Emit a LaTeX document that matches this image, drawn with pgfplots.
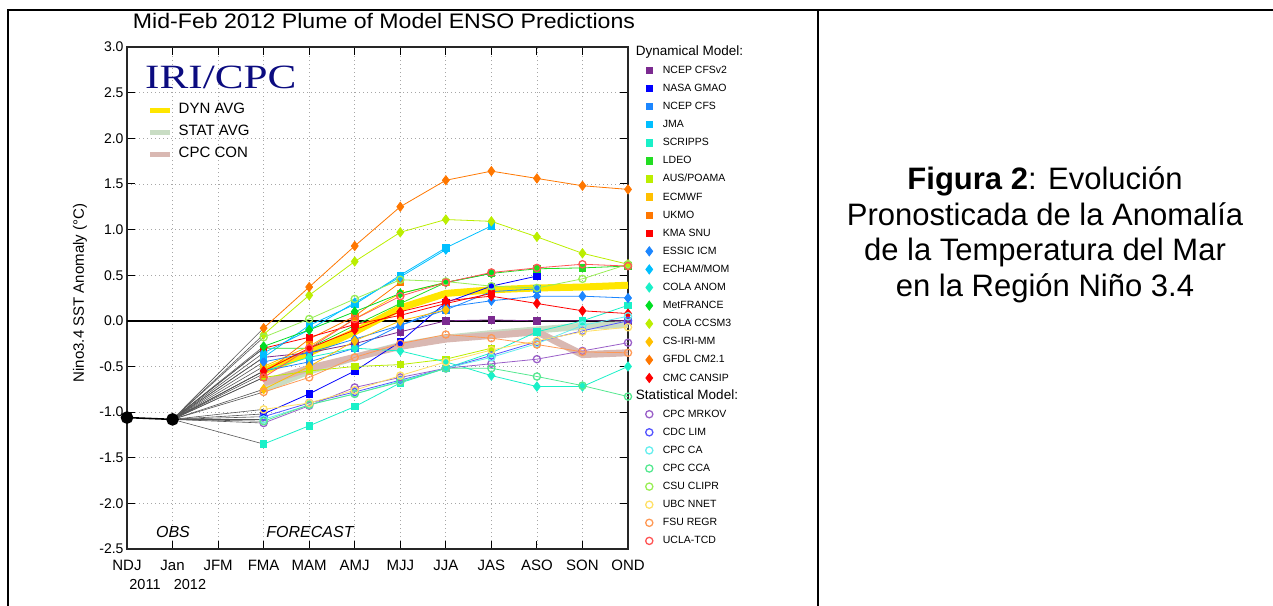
\documentclass[border=0pt]{standalone}
\usepackage{fontspec}
\setmainfont{Liberation Sans}
\newfontfamily\seriffont{Liberation Serif}
\usepackage{graphicx}
\usepackage{pgfplots}
\usepackage{pgfplotstable}
\pgfplotsset{compat=1.18}

\newcommand{\fs}[1]{\fontsize{#1bp}{#1bp}\selectfont}

\definecolor{cCFSvII}{HTML}{7B2A90}
\definecolor{cGMAO}{HTML}{0000FF}
\definecolor{cCFS}{HTML}{1C86FF}
\definecolor{cJMA}{HTML}{00BFFF}
\definecolor{cSCR}{HTML}{1AF0C8}
\definecolor{cLDEO}{HTML}{22DD22}
\definecolor{cPOAMA}{HTML}{BBEE00}
\definecolor{cECMWF}{HTML}{FFC000}
\definecolor{cUKMO}{HTML}{FF7700}
\definecolor{cKMA}{HTML}{FF0000}
\definecolor{cMETFR}{HTML}{00DD22}
\definecolor{cMRKOV}{HTML}{9A5FC8}
\definecolor{cLIM}{HTML}{5555FF}
\definecolor{cCA}{HTML}{66EEEE}
\definecolor{cCCA}{HTML}{55E890}
\definecolor{cCLIPR}{HTML}{99EE55}
\definecolor{cNNET}{HTML}{FFE066}
\definecolor{cFSU}{HTML}{FF9955}
\definecolor{cUCLA}{HTML}{FF5555}
\definecolor{cDYN}{HTML}{FFE600}
\definecolor{cSTAT}{HTML}{C9DDC4}
\definecolor{cCON}{HTML}{D9B8B2}
\definecolor{cFAN}{HTML}{555555}
\definecolor{cNAVY}{HTML}{0C0C80}

\pgfplotstableread{
x cfsv2 gmao cfs jma scripps ldeo poama ecmwf ukmo kma essic echam colaanom metfr ccsm3 csiri gfdl cansip mrkov lim ca cca clipr nnet fsu ucla
1 -1.08 -1.08 -1.08 -1.08 -1.08 -1.08 -1.08 -1.08 -1.08 -1.08 -1.08 -1.08 -1.08 -1.08 -1.08 -1.08 -1.08 -1.08 -1.08 -1.08 -1.08 -1.08 -1.08 -1.08 -1.08 -1.08
3 -0.40 -1.02 -0.55 -0.40 -1.35 -0.30 -0.62 -0.50 -0.58 -0.30 -0.45 -0.35 -0.55 -0.28 -0.15 -0.75 -0.08 -0.55 -1.12 -1.05 -1.08 -1.10 -0.18 -0.97 -0.78 -0.62
4 -0.35 -0.80 -0.45 -0.05 -1.15 -0.30 -0.55 -0.28 -0.20 -0.18 -0.35 -0.10 -0.40 -0.10 0.28 -0.50 0.37 -0.30 -0.93 -0.90 -0.92 -0.92 0.02 -0.90 -0.62 -0.30
5 -0.25 -0.55 -0.30 0.18 -0.94 -0.05 -0.50 0.02 0.05 -0.04 -0.20 0.20 -0.30 0.10 0.65 -0.22 0.82 -0.10 -0.73 -0.78 -0.80 -0.80 0.24 -0.76 -0.40 0.02
6 -0.12 -0.23 -0.05 0.50 -0.68 0.19 -0.48 0.30 0.42 0.06 -0.05 0.48 -0.33 0.30 0.97 0.00 1.25 0.10 -0.62 -0.65 -0.66 -0.67 0.45 -0.60 -0.25 0.27
7 0.00 0.20 0.12 0.80 -0.52 0.42 -0.42 0.42 nan 0.19 0.15 0.78 -0.45 0.42 1.11 0.12 1.54 0.22 -0.52 -0.52 -0.52 -0.52 0.43 -0.45 -0.15 0.42
8 0.01 0.38 0.32 1.04 -0.35 0.52 -0.30 nan nan 0.30 0.22 nan -0.60 0.52 1.09 nan 1.64 0.27 -0.47 -0.38 -0.40 -0.52 0.38 -0.32 -0.19 0.53
9 0.00 0.49 0.35 nan -0.12 0.57 nan nan nan nan 0.27 nan -0.72 nan 0.92 nan 1.56 0.19 -0.42 -0.23 -0.25 -0.61 0.36 -0.22 -0.26 0.58
10 0.00 nan nan nan 0.00 0.58 nan nan nan nan 0.27 nan -0.72 nan 0.74 nan 1.48 0.11 -0.33 -0.11 -0.05 -0.71 0.46 -0.12 -0.34 0.62
11 0.00 nan nan nan 0.17 0.60 nan nan nan nan 0.25 nan -0.50 nan 0.62 nan 1.44 0.08 -0.24 0.00 0.05 -0.83 0.62 -0.07 -0.35 0.60
}\models

\pgfplotstableread{
x dyn stat con
3 -0.55 -0.75 -0.68
4 -0.35 -0.55 -0.52
5 -0.12 -0.40 -0.40
6 0.14 -0.27 -0.28
7 0.30 -0.19 -0.20
8 0.34 -0.14 -0.16
9 0.36 -0.10 -0.12
10 0.37 -0.06 -0.37
11 0.39 -0.04 -0.35
}\avgs

\pgfplotstableread{
x obs
0 -1.06
1 -1.08
}\obs

\newcommand{\fan}[1]{\addplot[cFAN, line width=0.6bp, forget plot, restrict x to domain=1:3] table[x=x,y=#1]{\models};}
\newcommand{\dynsq}[3]{\addplot[color=#1, line width=0.8bp, mark=square*, mark size=3.2bp, mark options={solid, fill=#1}, restrict x to domain=3:11] table[x=x,y=#2]{\models}; \addlegendentry{#3}}
\newcommand{\dyndi}[3]{\addplot[color=#1, line width=0.8bp, mark=diamond*, mark size=4.6bp, mark options={solid, fill=#1}, restrict x to domain=3:11] table[x=x,y=#2]{\models}; \addlegendentry{#3}}
\newcommand{\statc}[3]{\addplot[color=#1, line width=0.8bp, mark=o, mark size=3.6bp, mark options={solid, line width=1.3bp}, restrict x to domain=3:11] table[x=x,y=#2]{\models}; \addlegendentry{#3}}

\begin{document}
\begin{tikzpicture}
\path[use as bounding box] (0,0) rectangle (1273bp,-606bp);

\begin{axis}[
  at={(127bp,-549bp)}, anchor=south west,
  scale only axis, width=501bp, height=502bp,
  xmin=0, xmax=11, ymin=-2.5, ymax=3,
  clip=false,
  xtick={0,...,11},
  xticklabels={NDJ,Jan,JFM,FMA,MAM,AMJ,MJJ,JJA,JAS,ASO,SON,OND},
  ytick={-2.5,-2,-1.5,-1,-0.5,0,0.5,1,1.5,2,2.5,3},
  yticklabel style={font=\fs{14}, /pgf/number format/fixed, /pgf/number format/fixed zerofill, /pgf/number format/precision=1, /pgf/number format/assume math mode=true},
  xticklabel style={font=\fs{15}, anchor=north, text height=11bp, text depth=3bp, inner sep=0pt, yshift=-10bp},
  tick align=inside, major tick length=8bp,
  tick style={black, line width=1bp},
  axis line style={black!85, line width=1.4bp},
  grid=major,
  grid style={gray!70, line width=0.7bp, dash pattern=on 1bp off 3bp},
  legend style={at={(1.0349,1.002)}, anchor=north west, draw=none, fill=none,
    font=\fs{10.5}, row sep=6.1bp, column sep=10bp, inner sep=0pt,
    nodes={inner sep=0pt, text height=9bp, text depth=3bp}},
  legend cell align=left,
  legend image code/.code={\draw[#1] plot coordinates {(3bp,0bp)};},
]
\addplot[black, line width=1.5bp, forget plot] coordinates {(0,0) (11,0)};
\pgfplotsinvokeforeach{cfsv2,gmao,cfs,jma,scripps,ldeo,poama,ecmwf,ukmo,kma,essic,echam,colaanom,metfr,ccsm3,csiri,gfdl,cansip,mrkov,lim,ca,cca,clipr,nnet,fsu,ucla}{\fan{#1}}
\addplot[black, line width=1.6bp, mark=*, mark size=5.5bp, forget plot] table[x=x,y=obs]{\obs};
\addplot[cSTAT, line width=7bp, forget plot] table[x=x,y=stat]{\avgs};
\addplot[cCON, line width=7bp, forget plot] table[x=x,y=con]{\avgs};
\addplot[cDYN, line width=7bp, forget plot] table[x=x,y=dyn]{\avgs};

\addlegendimage{empty legend}\addlegendentry{\hspace*{-26.9bp}\fs{13.5}Dynamical Model:}
\dynsq{cCFSvII}{cfsv2}{NCEP CFSv2}
\dynsq{cGMAO}{gmao}{NASA GMAO}
\dynsq{cCFS}{cfs}{NCEP CFS}
\dynsq{cJMA}{jma}{JMA}
\dynsq{cSCR}{scripps}{SCRIPPS}
\dynsq{cLDEO}{ldeo}{LDEO}
\dynsq{cPOAMA}{poama}{AUS/POAMA}
\dynsq{cECMWF}{ecmwf}{ECMWF}
\dynsq{cUKMO}{ukmo}{UKMO}
\dynsq{cKMA}{kma}{KMA SNU}
\dyndi{cCFS}{essic}{ESSIC ICM}
\dyndi{cJMA}{echam}{ECHAM/MOM}
\dyndi{cSCR}{colaanom}{COLA ANOM}
\dyndi{cMETFR}{metfr}{MetFRANCE}
\dyndi{cPOAMA}{ccsm3}{COLA CCSM3}
\dyndi{cECMWF}{csiri}{CS-IRI-MM}
\dyndi{cUKMO}{gfdl}{GFDL CM2.1}
\dyndi{cKMA}{cansip}{CMC CANSIP}
\addlegendimage{empty legend}\addlegendentry{\hspace*{-26.9bp}\fs{13.5}Statistical Model:}
\statc{cMRKOV}{mrkov}{CPC MRKOV}
\statc{cLIM}{lim}{CDC LIM}
\statc{cCA}{ca}{CPC CA}
\statc{cCCA}{cca}{CPC CCA}
\statc{cCLIPR}{clipr}{CSU CLIPR}
\statc{cNNET}{nnet}{UBC NNET}
\statc{cFSU}{fsu}{FSU REGR}
\statc{cUCLA}{ucla}{UCLA-TCD}
\end{axis}

\begin{axis}[
  at={(127bp,-549bp)}, anchor=south west,
  scale only axis, width=501bp, height=502bp,
  hide axis, xmin=0, xmax=11, ymin=-2.5, ymax=3,
  legend style={at={(0.0409,0.8894)}, anchor=north west, draw=none, fill=none,
    font=\fs{15}, row sep=7bp, column sep=6bp, inner sep=0pt,
    nodes={inner sep=0pt, text height=11bp, text depth=4bp}},
  legend cell align=left,
  legend image code/.code={\draw[#1] (0bp,0bp) -- (20bp,0bp);},
]
\addlegendimage{cDYN, line width=5bp}\addlegendentry{DYN AVG}
\addlegendimage{cSTAT, line width=5bp}\addlegendentry{STAT AVG}
\addlegendimage{cCON, line width=5bp}\addlegendentry{CPC CON}
\end{axis}

% texts
\node[anchor=base, inner sep=0] at (384bp,-28bp) {\scalebox{1.1}[1]{\fs{21}Mid-Feb 2012 Plume of Model ENSO Predictions}};
\node[anchor=base west, inner sep=0, text=cNAVY] at (145bp,-88bp) {\scalebox{1.27}[1]{\seriffont\fs{34}IRI/CPC}};
\node[rotate=90, font=\fs{15}] at (80bp,-293bp) {Nino3.4 SST Anomaly (°C)};
\node[anchor=base, font=\fs{16}\itshape, inner sep=0] at (173bp,-537bp) {OBS};
\node[anchor=base, font=\fs{16}\itshape, inner sep=0] at (310bp,-537bp) {FORECAST};
\node[anchor=base, font=\fs{14.5}, inner sep=0] at (145bp,-589bp) {2011};
\node[anchor=base, font=\fs{14.5}, inner sep=0] at (190bp,-589bp) {2012};

% table frame
\draw[line width=1.8bp] (8bp,-606bp) -- (8bp,-10bp) -- (1273bp,-10bp);
\draw[line width=1.8bp] (818bp,-10bp) -- (818bp,-606bp);

\node[align=center, font=\fontsize{31bp}{35.5bp}\selectfont] at (1045bp,-235bp)
  {\textbf{Figura 2}: Evolución\\Pronosticada de la Anomalía\\de la Temperatura del Mar\\en la Región Niño 3.4};
\end{tikzpicture}
\end{document}
